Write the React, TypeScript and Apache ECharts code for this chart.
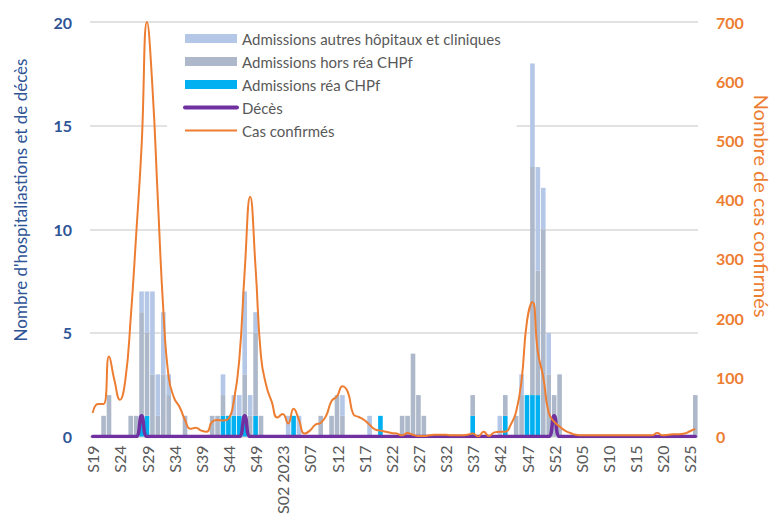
import React, { useEffect, useRef } from "react";
import * as echarts from "echarts";

// Week categories: S19 2022 -> S26 2024
const weeks2022 = [19,20,21,22,23,24,25,26,27,28,29,30,31,32,33,34,35,36,37,38,39,40,41,42,43,44,45,46,47,48,49,50,51,52];
const weeks2023 = [1,2,3,4,5,6,7,8,9,10,11,12,13,14,15,16,17,18,19,20,21,22,23,24,25,26,27,28,29,30,31,32,33,34,35,36,37,38,39,40,41,42,43,44,45,46,47,48,49,50,51,52];
const weeks2024 = [1,2,3,4,5,6,7,8,9,10,11,12,13,14,15,16,17,18,19,20,21,22,23,24,25,26];

const pad = (w: number) => (w < 10 ? "0" + w : "" + w);
const categories: string[] = [
  ...weeks2022.map((w) => "S" + pad(w)),
  ...weeks2023.map((w) => "S" + pad(w) + (w === 2 ? " 2023" : "")),
  ...weeks2024.map((w) => "S" + pad(w)),
];

// Admissions réa CHPf
const reaCHPf = [
  0,0,0,0,0,0,0,0,0,1,
  1,0,0,0,0,0,0,0,0,0,
  0,0,0,0,1,1,1,1,1,0,
  1,0,0,0,0,0,0,1,0,0,
  0,0,0,0,0,0,0,0,0,0,
  0,0,0,1,0,0,0,0,0,0,
  0,0,0,0,0,0,0,0,0,0,
  1,0,0,0,0,0,1,0,0,0,
  2,2,2,0,0,0,0,0,0,0,
  0,0,0,0,0,0,0,0,0,0,
  0,0,0,0,0,0,0,0,0,0,
  0,0,
];

// Admissions hors réa CHPf
const horsReaCHPf = [
  0,0,1,2,0,0,0,1,1,5,
  4,3,1,3,2,0,0,1,0,0,
  0,0,1,1,1,0,0,0,2,1,
  4,1,0,0,0,0,0,0,0,0,
  0,0,1,0,1,2,1,0,0,0,
  0,0,0,0,0,0,0,1,1,4,
  2,1,0,0,0,0,0,0,0,0,
  1,0,0,0,0,0,1,0,1,2,
  0,11,6,10,3,2,3,0,0,0,
  0,0,0,0,0,0,0,0,0,0,
  0,0,0,0,0,0,0,0,0,0,
  0,2,
];

// Admissions autres hôpitaux et cliniques
const autresHopitaux = [
  0,0,0,0,0,0,0,0,0,1,
  2,4,2,3,1,0,0,0,0,0,
  0,0,0,0,1,0,1,1,4,1,
  1,0,0,0,0,0,1,0,1,0,
  0,0,0,0,0,0,1,0,0,0,
  0,1,0,0,0,0,0,0,0,0,
  0,0,0,0,0,0,0,0,0,0,
  0,0,0,0,0,1,0,0,0,1,
  0,5,5,2,2,0,0,0,0,0,
  0,0,0,0,0,0,0,0,0,0,
  0,0,0,0,0,0,0,0,0,0,
  0,0,
];

// Décès
const deces = [
  0,0,0,0,0,0,0,0,0,1,
  0,0,0,0,0,0,0,0,0,0,
  0,0,0,0,0,0,0,0,1,0,
  0,0,0,0,0,0,0,0,0,0,
  0,0,0,0,0,0,0,0,0,0,
  0,0,0,0,0,0,0,0,0,0,
  0,0,0,0,0,0,0,0,0,0,
  0,0,0,0,0,0,0,0,0,0,
  0,0,0,0,0,1,0,0,0,0,
  0,0,0,0,0,0,0,0,0,0,
  0,0,0,0,0,0,0,0,0,0,
  0,0,
];

// Cas confirmés
const casConfirmes = [
  40,55,55,135,95,62,95,200,340,490,
  700,590,400,215,100,65,50,28,13,15,
  10,8,25,28,27,30,60,130,280,405,
  285,135,85,58,32,38,22,47,28,5,
  10,20,23,35,60,68,85,75,38,33,
  28,20,12,10,8,6,5,2,6,3,
  1,1,2,3,3,3,2,2,2,3,
  5,0,8,1,7,8,8,20,42,95,
  195,227,143,100,40,25,17,10,6,3,
  2,2,2,2,2,2,2,2,2,2,
  2,2,2,2,6,2,3,4,4,5,
  9,13,
];

const leftTicks = { min: 0, max: 20, interval: 5 };
const rightTicks = { min: 0, max: 700, interval: 100 };

const leftTitle = "Nombre d'hospitaliastions et de décès";
const rightTitle = "Nombre de cas confirmés";

const FONT = "Lato, 'Noto Sans', sans-serif";

export default function App() {
  const ref = useRef<HTMLDivElement>(null);

  useEffect(() => {
    if (!ref.current) return;
    const chart = echarts.init(ref.current, undefined, { renderer: "svg" });
    chart.setOption({
      animation: false,
      backgroundColor: "#ffffff",
      textStyle: { fontFamily: FONT },
      grid: { left: 90, right: 78, top: 22, bottom: 79, containLabel: false },
      legend: {
        orient: "vertical",
        left: 167,
        top: 27,
        itemWidth: 52,
        itemHeight: 9,
        itemGap: 8,
        padding: [4, 16, 4, 16],
        backgroundColor: "#ffffff",
        textStyle: { color: "#595959", fontSize: 15, fontFamily: FONT },
        data: [
          { name: "Admissions autres hôpitaux et cliniques", icon: "rect" },
          { name: "Admissions hors réa CHPf", icon: "rect" },
          { name: "Admissions réa CHPf", icon: "rect" },
          {
            name: "Décès",
            itemStyle: { opacity: 0 },
            lineStyle: { width: 4, cap: "round", color: "#7030A0" },
          },
          {
            name: "Cas confirmés",
            itemStyle: { opacity: 0 },
            lineStyle: { width: 2, color: "#ED7D31" },
          },
        ],
      },
      graphic: [
        {
          type: "text",
          x: 20,
          y: 200,
          rotation: Math.PI / 2,
          style: {
            text: leftTitle,
            fill: "#2F5597",
            fontSize: 17,
            fontFamily: FONT,
            align: "center",
            verticalAlign: "middle",
          },
        },
        {
          type: "text",
          x: 762,
          y: 206,
          rotation: -Math.PI / 2,
          style: {
            text: rightTitle,
            fill: "#ED7D31",
            fontSize: 20,
            fontFamily: FONT,
            align: "center",
            verticalAlign: "middle",
          },
        },
      ],
      xAxis: {
        type: "category",
        data: categories,
        boundaryGap: true,
        axisLine: { show: true, lineStyle: { color: "#d9d9d9", width: 1 } },
        axisTick: { show: false },
        axisLabel: {
          interval: 4,
          rotate: 90,
          margin: 9,
          color: "#595959",
          fontSize: 16,
          fontFamily: FONT,
        },
      },
      yAxis: [
        {
          type: "value",
          min: leftTicks.min,
          max: leftTicks.max,
          interval: leftTicks.interval,
          axisLine: { show: false },
          axisTick: { show: false },
          axisLabel: {
            color: "#2F5597",
            fontWeight: "bold",
            fontSize: 16,
            margin: 18,
            fontFamily: FONT,
          },
          splitLine: { show: true, lineStyle: { color: "#d9d9d9", width: 1.5 } },
        },
        {
          type: "value",
          min: rightTicks.min,
          max: rightTicks.max,
          interval: rightTicks.interval,
          position: "right",
          axisLine: { show: false },
          axisTick: { show: false },
          axisLabel: {
            color: "#ED7D31",
            fontWeight: "bold",
            fontSize: 16,
            margin: 18,
            fontFamily: FONT,
          },
          splitLine: { show: false },
        },
      ],
      series: [
        {
          name: "Admissions réa CHPf",
          type: "bar",
          stack: "adm",
          yAxisIndex: 0,
          data: reaCHPf,
          barCategoryGap: "15%",
          itemStyle: { color: "#00B0F0" },
        },
        {
          name: "Admissions hors réa CHPf",
          type: "bar",
          stack: "adm",
          yAxisIndex: 0,
          data: horsReaCHPf,
          barCategoryGap: "15%",
          itemStyle: { color: "#ADB9CA" },
        },
        {
          name: "Admissions autres hôpitaux et cliniques",
          type: "bar",
          stack: "adm",
          yAxisIndex: 0,
          data: autresHopitaux,
          barCategoryGap: "15%",
          itemStyle: { color: "#B4C7E7" },
        },
        {
          name: "Décès",
          type: "line",
          yAxisIndex: 0,
          data: deces,
          smooth: 0.5,
          symbol: "none",
          lineStyle: { color: "#7030A0", width: 3.5, cap: "round" },
          itemStyle: { color: "#7030A0" },
          z: 3,
        },
        {
          name: "Cas confirmés",
          type: "line",
          yAxisIndex: 1,
          data: casConfirmes,
          smooth: 0.5,
          symbol: "none",
          lineStyle: { color: "#ED7D31", width: 2 },
          itemStyle: { color: "#ED7D31" },
          z: 4,
        },
      ],
    });
    return () => chart.dispose();
  }, []);

  return (
    <div
      ref={ref}
      style={{ position: "absolute", left: 0, top: 0, width: 776, height: 517 }}
    />
  );
}
